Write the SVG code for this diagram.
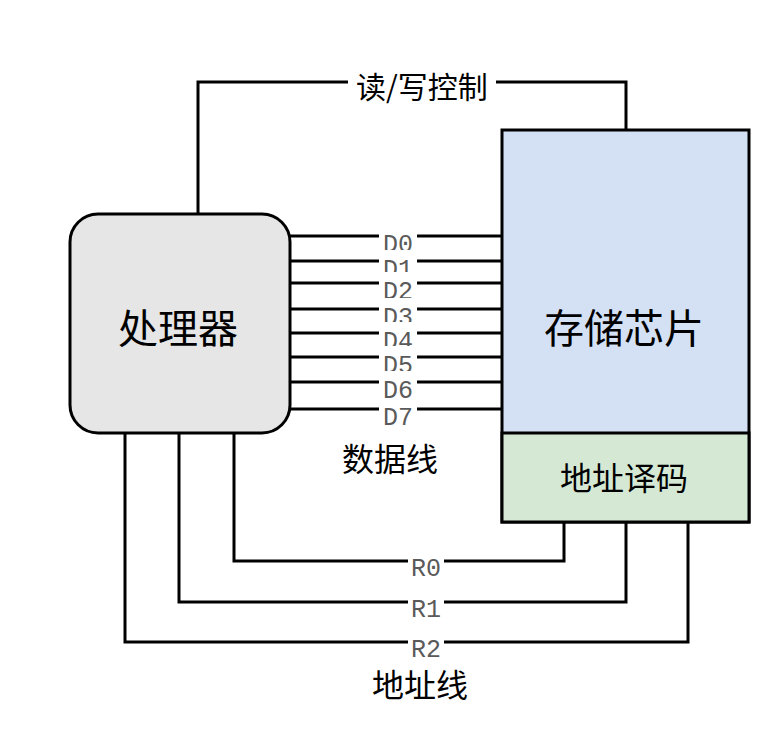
<svg xmlns="http://www.w3.org/2000/svg" width="764" height="740" viewBox="0 0 764 740">
<style>
.ln{fill:none;stroke:#000;stroke-width:3}
.node{stroke:#000;stroke-width:3}
.cjk{font-family:"Noto Sans CJK SC","Noto Sans CJK JP",sans-serif;fill:#000;text-anchor:middle;dominant-baseline:central}
.bg{fill:#fff}
.mono{font-family:"Liberation Mono","DejaVu Sans Mono",monospace;font-size:25px;fill:#5a5a5a;text-anchor:middle}
</style>
<rect width="764" height="740" fill="#fff"/>
<g id="connectors">
  <g id="rw-control">
    <polyline class="ln" points="198,214 198,82 626,82 626,130"/>
    <rect class="bg" x="348" y="66" width="148" height="34"/>
    <text class="cjk" x="422" y="85" font-size="30">读/写控制</text>
  </g>
  <g id="data-lines">
    <line class="ln" x1="290" y1="236" x2="502" y2="236"/>
    <line class="ln" x1="290" y1="261" x2="502" y2="261"/>
    <line class="ln" x1="290" y1="283" x2="502" y2="283"/>
    <line class="ln" x1="290" y1="309" x2="502" y2="309"/>
    <line class="ln" x1="290" y1="333" x2="502" y2="333"/>
    <line class="ln" x1="290" y1="357" x2="502" y2="357"/>
    <line class="ln" x1="290" y1="382" x2="502" y2="382"/>
    <line class="ln" x1="290" y1="409" x2="502" y2="409"/>
    <rect class="bg" x="379" y="225" width="38" height="31"/><text class="mono" x="398" y="252">D0</text>
    <rect class="bg" x="379" y="250" width="38" height="31"/><text class="mono" x="398" y="277">D1</text>
    <rect class="bg" x="379" y="272" width="38" height="31"/><text class="mono" x="398" y="299">D2</text>
    <rect class="bg" x="379" y="298" width="38" height="31"/><text class="mono" x="398" y="325">D3</text>
    <rect class="bg" x="379" y="322" width="38" height="31"/><text class="mono" x="398" y="349">D4</text>
    <rect class="bg" x="379" y="346" width="38" height="31"/><text class="mono" x="398" y="373">D5</text>
    <rect class="bg" x="379" y="371" width="38" height="31"/><text class="mono" x="398" y="398">D6</text>
    <rect class="bg" x="379" y="398" width="38" height="31"/><text class="mono" x="398" y="425">D7</text>
    <text class="cjk" x="390" y="457" font-size="32">数据线</text>
  </g>
  <g id="address-lines">
    <polyline class="ln" points="234,433 234,561 564,561 564,522"/>
    <polyline class="ln" points="179,433 179,602 626,602 626,522"/>
    <polyline class="ln" points="125,433 125,642 688,642 688,522"/>
    <rect class="bg" x="408" y="550" width="36" height="31"/><text class="mono" x="426" y="576">R0</text>
    <rect class="bg" x="408" y="591" width="36" height="31"/><text class="mono" x="426" y="617">R1</text>
    <rect class="bg" x="408" y="631" width="36" height="31"/><text class="mono" x="426" y="657">R2</text>
    <text class="cjk" x="420" y="683" font-size="32">地址线</text>
  </g>
</g>
<g id="processor">
  <rect class="node" x="70" y="214" width="220" height="219" rx="28" ry="28" fill="#e6e6e6"/>
  <text class="cjk" x="178" y="326" font-size="40">处理器</text>
</g>
<g id="memory-chip">
  <rect class="node" x="502" y="130" width="247" height="392" fill="#d4e1f5"/>
  <text class="cjk" x="624" y="326" font-size="40">存储芯片</text>
</g>
<g id="address-decoder">
  <rect class="node" x="502" y="433" width="247" height="89" fill="#d5e8d4"/>
  <text class="cjk" x="624" y="476" font-size="32">地址译码</text>
</g>
</svg>
